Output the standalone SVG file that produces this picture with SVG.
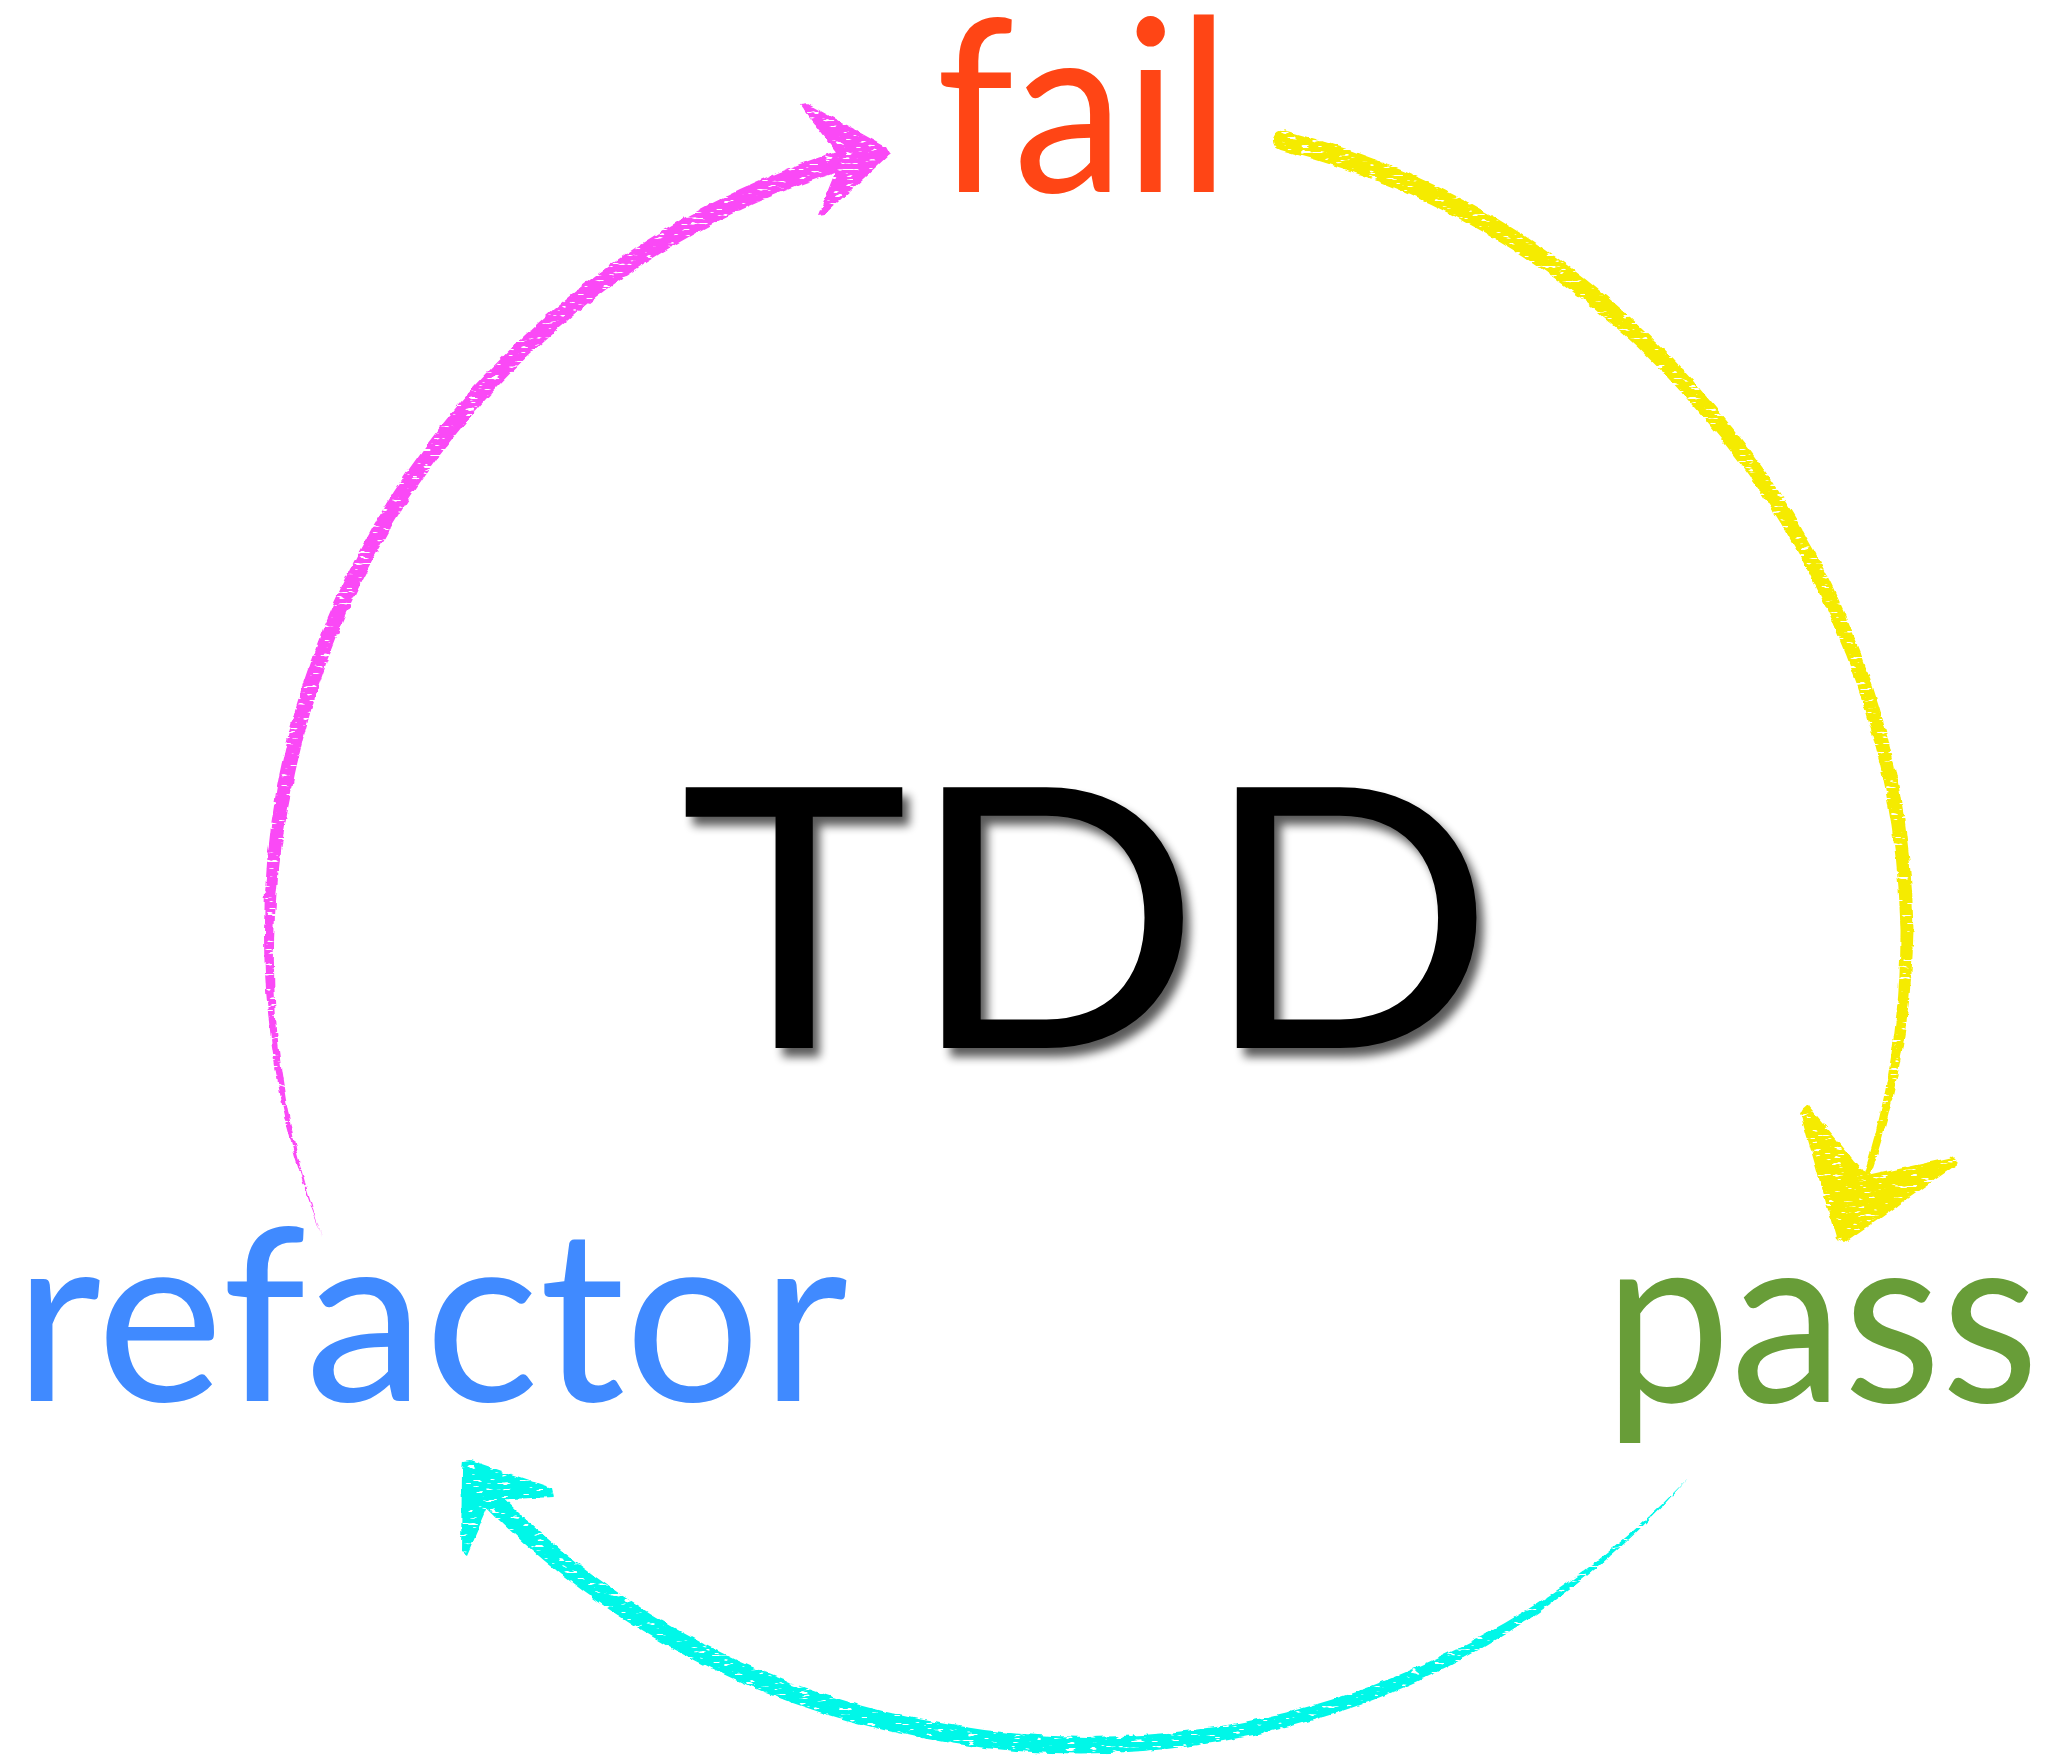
<svg xmlns="http://www.w3.org/2000/svg" width="2045" height="1756" viewBox="0 0 2045 1756">
  <style>
    .lbl { font-family: Lato, "Open Sans", "Liberation Sans", sans-serif; font-weight: 400; }
    .step { font-size: 240px; }
    .tdd { font-size: 364px; fill: #000000; }
  </style>
  <defs>
    <filter id="shadow" x="-10%" y="-10%" width="125%" height="130%">
      <feGaussianBlur in="SourceAlpha" stdDeviation="5"/>
      <feOffset dx="7" dy="9" result="b"/>
      <feComponentTransfer in="b" result="s">
        <feFuncA type="linear" slope="0.65"/>
      </feComponentTransfer>
      <feMerge>
        <feMergeNode in="s"/>
        <feMergeNode in="SourceGraphic"/>
      </feMerge>
    </filter>
    <filter id="brush" x="-5%" y="-5%" width="110%" height="110%">
      <feTurbulence type="fractalNoise" baseFrequency="0.1" numOctaves="2" seed="3" result="n"/>
      <feDisplacementMap in="SourceGraphic" in2="n" scale="5" xChannelSelector="R" yChannelSelector="G" result="d"/>
      <feTurbulence type="fractalNoise" baseFrequency="0.09 0.35" numOctaves="2" seed="11" result="n2"/>
      <feColorMatrix in="n2" type="matrix" values="0 0 0 0 0  0 0 0 0 0  0 0 0 0 0  -14 0 0 0 10.2" result="holes"/>
      <feComposite in="d" in2="holes" operator="in"/>
    </filter>
  </defs>

  <g id="connectors">
    <g id="arrow-refactor-fail" fill="#FA48F6" filter="url(#brush)">
      <path d="M 322 1236 A 824 824 0 0 1 277 786.7 A 820 820 0 0 1 509.8 349.8 A 818 818 0 0 1 838.9 150.4 L 845.1 169.5 A 802 802 0 0 0 521.8 361.8 A 808 808 0 0 0 291.8 789.3 A 818 818 0 0 0 322 1236 Z"/>
      <path d="M 800 105 L 808 104 L 886 147 L 890 154 L 825 214 L 818 215 L 838 165 L 841 158 L 808 116 Z"/>
    </g>
    <g id="arrow-fail-pass" fill="#F5EB00" filter="url(#brush)">
      <path d="M 1285.3 130.5 A 815 815 0 0 1 1714.3 406.1 A 818 818 0 0 1 1913.5 930 A 817 817 0 0 1 1869.2 1179 L 1863 1177 A 812 812 0 0 0 1900.5 930 A 806 806 0 0 0 1702.1 416.4 A 802 802 0 0 0 1280.6 150 A 10 10 0 0 1 1285.3 130.5 Z"/>
      <path d="M 1800 1112 L 1808 1105 L 1867 1176 L 1953 1157 L 1959 1163 L 1845 1243 L 1836 1238 Z"/>
    </g>
    <g id="arrow-pass-refactor" fill="#00F7E8" filter="url(#brush)">
      <path d="M 1688 1478 A 812 812 0 0 1 1436.3 1672.7 A 822 822 0 0 1 946.7 1742.5 A 830 830 0 0 1 485 1506.2 L 498.7 1493.1 A 812 812 0 0 0 949.9 1724.7 A 806 806 0 0 0 1430.8 1660.9 A 810 810 0 0 0 1688 1478 Z"/>
      <path d="M 463 1461 L 470 1460 L 552 1488 L 554 1497 L 491 1500 L 467 1556 L 461 1552 L 462 1470 Z"/>
    </g>
  </g>

  <g id="node-tdd">
    <text class="lbl tdd" x="680" y="1048" textLength="815" lengthAdjust="spacingAndGlyphs" filter="url(#shadow)">TDD</text>
  </g>
  <g id="node-fail">
    <text class="lbl step" x="936" y="192" fill="#FF4515" textLength="294" lengthAdjust="spacingAndGlyphs">fail</text>
  </g>
  <g id="node-pass">
    <text class="lbl step" x="1604" y="1402" fill="#689D38" textLength="435" lengthAdjust="spacingAndGlyphs">pass</text>
  </g>
  <g id="node-refactor">
    <text class="lbl step" x="14" y="1401" fill="#408AFF" textLength="834" lengthAdjust="spacingAndGlyphs">refactor</text>
  </g>
</svg>
